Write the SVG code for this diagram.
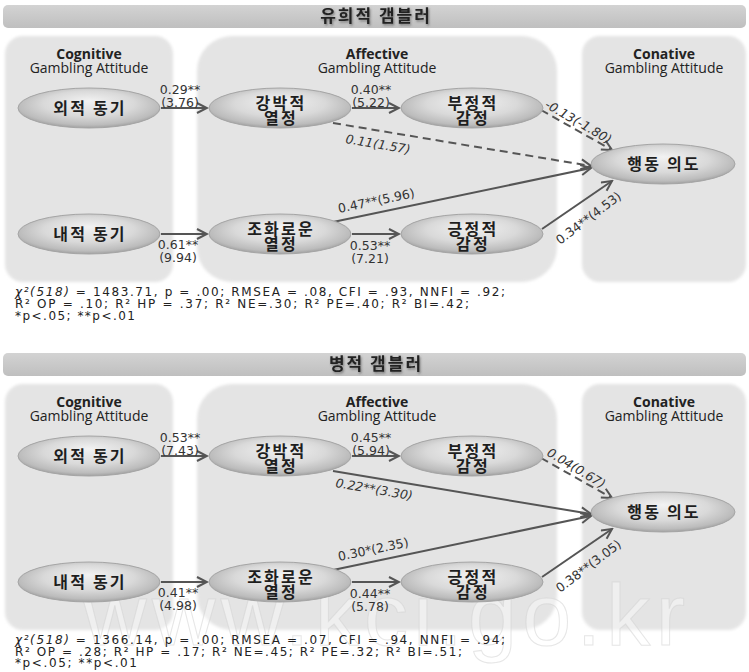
<svg xmlns="http://www.w3.org/2000/svg" width="749" height="672" viewBox="0 0 749 672">
<defs>
 <radialGradient id="nodeGrad" cx="50%" cy="45%" r="58%" fx="50%" fy="32%">
  <stop offset="0" stop-color="#f2f2f2"/>
  <stop offset="0.55" stop-color="#d9d9d9"/>
  <stop offset="0.85" stop-color="#bcbcbc"/>
  <stop offset="1" stop-color="#979797"/>
 </radialGradient>
 <linearGradient id="barGrad" x1="0" y1="0" x2="0" y2="1"><stop offset="0" stop-color="#d3d3d3"/><stop offset="1" stop-color="#bfbfbf"/></linearGradient>
 <filter id="soft" x="-5%" y="-5%" width="110%" height="110%"><feGaussianBlur stdDeviation="1.5"/></filter>
 <filter id="tshadow" x="-10%" y="-30%" width="120%" height="160%"><feDropShadow dx="1" dy="1.5" stdDeviation="1" flood-color="#444" flood-opacity="0.6"/></filter>
 <marker id="arr" markerWidth="13" markerHeight="13" refX="11" refY="6" orient="auto" markerUnits="userSpaceOnUse"><path d="M1,1 L11,6 L1,11" fill="none" stroke="#555" stroke-width="2"/></marker>
</defs>
<style>
.bar{fill:url(#barGrad)}
.title{font-family:"Noto Sans CJK KR",sans-serif;font-weight:bold;font-size:17px;fill:#222;text-anchor:middle;letter-spacing:2px}
.panel{fill:#e4e4e4}
.hd{font-family:"Open Sans",sans-serif;font-size:14px;fill:#222;text-anchor:middle}
.hb{font-weight:bold}
.node ellipse{fill:url(#nodeGrad);stroke:#a5a5a5;stroke-width:1}
.nt{font-family:"Noto Sans CJK KR",sans-serif;font-weight:bold;font-size:16px;fill:#1e1e1e;text-anchor:middle;letter-spacing:2.2px}
.edge{stroke:#555;stroke-width:2;fill:none;marker-end:url(#arr)}
.dash{stroke-dasharray:8 5}
.lbl{font-family:"DejaVu Sans",sans-serif;font-size:12.5px;fill:#333}
.c{text-anchor:middle}
.it{font-style:italic}
.fn{font-family:"DejaVu Sans",sans-serif;font-size:12px;fill:#222}
.wm{font-family:"Liberation Sans",sans-serif;font-size:88px;fill:#ffffff;fill-opacity:0.4;stroke:#d2d2d2;stroke-opacity:0.55;stroke-width:1}
</style>
<rect width="749" height="672" fill="#ffffff"/>

<!-- ===== TOP PANEL ===== -->
<g id="top">
 <g id="top-background">
  <rect class="bar" x="3" y="5" width="743" height="23" rx="5"/>
  <text class="title" x="376" y="22" filter="url(#tshadow)">유희적 갬블러</text>
  <rect class="panel" x="5" y="36" width="168" height="246" rx="18" filter="url(#soft)"/>
  <rect class="panel" x="197" y="36" width="360" height="246" rx="35" filter="url(#soft)"/>
  <rect class="panel" x="582" y="36" width="164" height="246" rx="18" filter="url(#soft)"/>
  <text class="hd hb" x="89" y="59">Cognitive</text>
  <text class="hd" x="89" y="73">Gambling Attitude</text>
  <text class="hd hb" x="377" y="59">Affective</text>
  <text class="hd" x="377" y="73">Gambling Attitude</text>
  <text class="hd hb" x="664" y="59">Conative</text>
  <text class="hd" x="664" y="73">Gambling Attitude</text>
 </g>
 <g id="top-connectors">
  <line class="edge" x1="161" y1="108" x2="207" y2="108"/>
  <line class="edge" x1="352" y1="108" x2="399" y2="108"/>
  <line class="edge dash" x1="333" y1="123" x2="591" y2="166"/>
  <line class="edge dash" x1="541" y1="110" x2="612" y2="150"/>
  <line class="edge" x1="333" y1="222" x2="591" y2="168"/>
  <line class="edge" x1="352" y1="234" x2="399" y2="234"/>
  <line class="edge" x1="161" y1="234" x2="207" y2="234"/>
  <line class="edge" x1="542" y1="229" x2="612" y2="181"/>
  <text class="lbl c" x="180" y="94">0.29**</text>
  <text class="lbl c" x="180" y="106.5">(3.76)</text>
  <text class="lbl c" x="371" y="94">0.40**</text>
  <text class="lbl c" x="371" y="106.5">(5.22)</text>
  <text class="lbl it" transform="translate(345,143) rotate(9.7)">0.11(1.57)</text>
  <text class="lbl it" transform="translate(544,107) rotate(30)">-0.13(-1.80)</text>
  <text class="lbl" transform="translate(339,213) rotate(-11.8)">0.47**(5.96)</text>
  <text class="lbl c" x="178" y="249">0.61**</text>
  <text class="lbl c" x="178" y="261.5">(9.94)</text>
  <text class="lbl c" x="370" y="250">0.53**</text>
  <text class="lbl c" x="370" y="262.5">(7.21)</text>
  <text class="lbl" transform="translate(560,245) rotate(-37)">0.34**(4.53)</text>
 </g>
 <g id="top-n1" class="node"><ellipse cx="89" cy="108" rx="71" ry="20"/><text class="nt" x="90" y="114">외적 동기</text></g>
 <g id="top-n2" class="node"><ellipse cx="280" cy="108" rx="71" ry="20"/><text class="nt" x="281" y="109">강박적</text><text class="nt" x="281" y="124">열정</text></g>
 <g id="top-n3" class="node"><ellipse cx="472" cy="108" rx="71" ry="20"/><text class="nt" x="473" y="109">부정적</text><text class="nt" x="473" y="124">감정</text></g>
 <g id="top-n4" class="node"><ellipse cx="663" cy="164" rx="72" ry="20"/><text class="nt" x="664" y="170">행동 의도</text></g>
 <g id="top-n5" class="node"><ellipse cx="89" cy="234" rx="71" ry="20"/><text class="nt" x="90" y="240">내적 동기</text></g>
 <g id="top-n6" class="node"><ellipse cx="280" cy="234" rx="71" ry="20"/><text class="nt" x="281" y="235">조화로운</text><text class="nt" x="281" y="250">열정</text></g>
 <g id="top-n7" class="node"><ellipse cx="472" cy="234" rx="71" ry="20"/><text class="nt" x="473" y="235">긍정적</text><text class="nt" x="473" y="250">감정</text></g>
 <g id="top-footnote">
  <text class="fn" x="15" y="296" textLength="490" lengthAdjust="spacing"><tspan class="it">χ²(518)</tspan> = 1483.71, p = .00; RMSEA = .08, CFI = .93, NNFI = .92;</text>
  <text class="fn" x="15" y="308" textLength="454" lengthAdjust="spacing">R² OP = .10;  R² HP = .37; R² NE=.30; R² PE=.40; R² BI=.42;</text>
  <text class="fn" x="15" y="320" textLength="120" lengthAdjust="spacing">*p&lt;.05; **p&lt;.01</text>
 </g>
</g>

<!-- ===== BOTTOM PANEL ===== -->
<g id="bottom" transform="translate(0,348)">
 <g id="bottom-background">
  <rect class="bar" x="3" y="5" width="743" height="23" rx="5"/>
  <text class="title" x="376" y="22" filter="url(#tshadow)">병적 갬블러</text>
  <rect class="panel" x="5" y="36" width="168" height="246" rx="18" filter="url(#soft)"/>
  <rect class="panel" x="197" y="36" width="360" height="246" rx="35" filter="url(#soft)"/>
  <rect class="panel" x="582" y="36" width="164" height="246" rx="18" filter="url(#soft)"/>
  <text class="hd hb" x="89" y="59">Cognitive</text>
  <text class="hd" x="89" y="73">Gambling Attitude</text>
  <text class="hd hb" x="377" y="59">Affective</text>
  <text class="hd" x="377" y="73">Gambling Attitude</text>
  <text class="hd hb" x="664" y="59">Conative</text>
  <text class="hd" x="664" y="73">Gambling Attitude</text>
  <text class="wm" x="83" y="297" textLength="602" lengthAdjust="spacing">www.kci.go.kr</text>
 </g>
 <g id="bottom-connectors">
  <line class="edge" x1="161" y1="108" x2="207" y2="108"/>
  <line class="edge" x1="352" y1="108" x2="399" y2="108"/>
  <line class="edge" x1="333" y1="123" x2="591" y2="166"/>
  <line class="edge dash" x1="541" y1="110" x2="612" y2="150"/>
  <line class="edge" x1="333" y1="222" x2="591" y2="168"/>
  <line class="edge" x1="352" y1="234" x2="399" y2="234"/>
  <line class="edge" x1="161" y1="234" x2="207" y2="234"/>
  <line class="edge" x1="542" y1="229" x2="612" y2="181"/>
  <text class="lbl c" x="180" y="94">0.53**</text>
  <text class="lbl c" x="180" y="106.5">(7.43)</text>
  <text class="lbl c" x="371" y="94">0.45**</text>
  <text class="lbl c" x="371" y="106.5">(5.94)</text>
  <text class="lbl it" transform="translate(335,139) rotate(9.7)">0.22**(3.30)</text>
  <text class="lbl it" transform="translate(546,107) rotate(31)">0.04(0.67)</text>
  <text class="lbl" transform="translate(339,213) rotate(-11.8)">0.30*(2.35)</text>
  <text class="lbl c" x="178" y="249">0.41**</text>
  <text class="lbl c" x="178" y="261.5">(4.98)</text>
  <text class="lbl c" x="370" y="250">0.44**</text>
  <text class="lbl c" x="370" y="262.5">(5.78)</text>
  <text class="lbl" transform="translate(560,245) rotate(-37)">0.38**(3.05)</text>
 </g>
 <g id="bottom-n1" class="node"><ellipse cx="89" cy="108" rx="71" ry="20"/><text class="nt" x="90" y="114">외적 동기</text></g>
 <g id="bottom-n2" class="node"><ellipse cx="280" cy="108" rx="71" ry="20"/><text class="nt" x="281" y="109">강박적</text><text class="nt" x="281" y="124">열정</text></g>
 <g id="bottom-n3" class="node"><ellipse cx="472" cy="108" rx="71" ry="20"/><text class="nt" x="473" y="109">부정적</text><text class="nt" x="473" y="124">감정</text></g>
 <g id="bottom-n4" class="node"><ellipse cx="663" cy="164" rx="72" ry="20"/><text class="nt" x="664" y="170">행동 의도</text></g>
 <g id="bottom-n5" class="node"><ellipse cx="89" cy="234" rx="71" ry="20"/><text class="nt" x="90" y="240">내적 동기</text></g>
 <g id="bottom-n6" class="node"><ellipse cx="280" cy="234" rx="71" ry="20"/><text class="nt" x="281" y="235">조화로운</text><text class="nt" x="281" y="250">열정</text></g>
 <g id="bottom-n7" class="node"><ellipse cx="472" cy="234" rx="71" ry="20"/><text class="nt" x="473" y="235">긍정적</text><text class="nt" x="473" y="250">감정</text></g>
 <g id="bottom-footnote">
  <text class="fn" x="15" y="296" textLength="490" lengthAdjust="spacing"><tspan class="it">χ²(518)</tspan> = 1366.14, p = .00; RMSEA = .07, CFI = .94, NNFI = .94;</text>
  <text class="fn" x="15" y="307.5" textLength="447" lengthAdjust="spacing">R² OP = .28; R² HP = .17; R² NE=.45; R² PE=.32; R² BI=.51;</text>
  <text class="fn" x="15" y="319" textLength="122" lengthAdjust="spacing">*p&lt;.05; **p&lt;.01</text>
 </g>
</g>
</svg>
